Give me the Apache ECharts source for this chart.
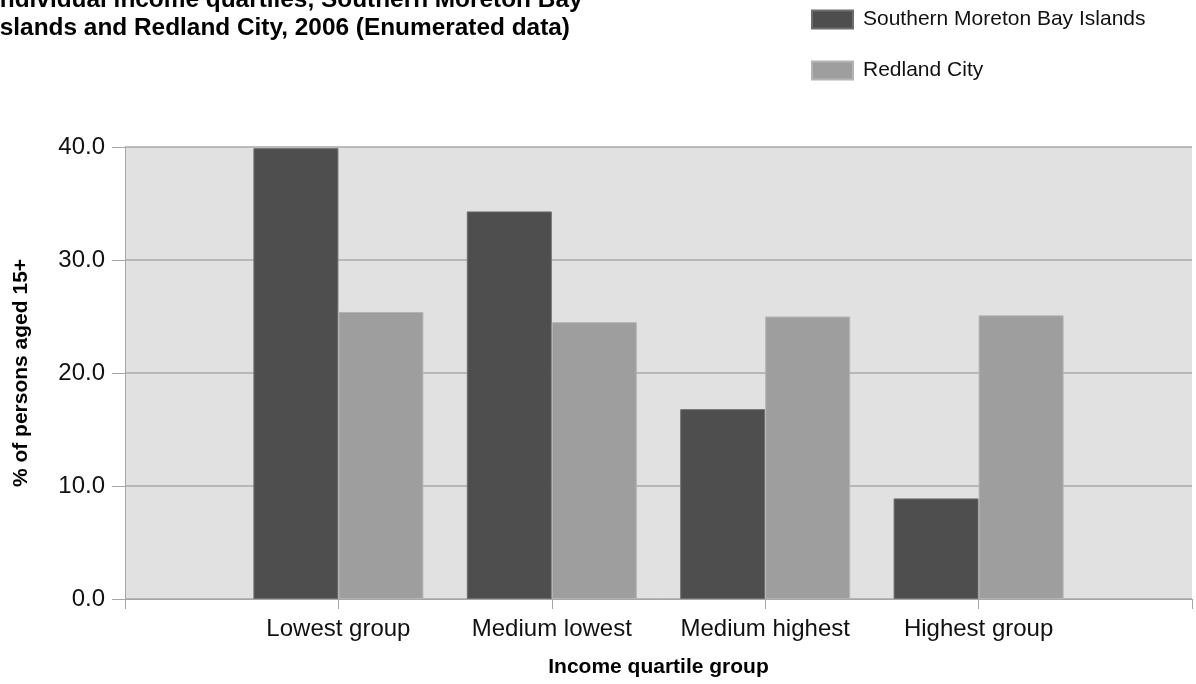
<!DOCTYPE html>
<html>
<head>
<meta charset="utf-8">
<script src="https://cdn.jsdelivr.net/npm/echarts@6/dist/echarts.min.js"></script>
<style>
  html, body { margin: 0; padding: 0; background: #ffffff; }
  #chart { width: 1196px; height: 684px; }
</style>
</head>
<body>
<div id="chart"></div>
<script>
// Income quartile groups (empty slots pad each end of the axis)
const categories = ['Lowest group', 'Medium lowest', 'Medium highest', 'Highest group'];
// % of persons aged 15+ in each quartile group, 2006
const smbiValues = [39.9, 34.3, 16.8, 8.9];
const redlandValues = [25.4, 24.5, 25.0, 25.1];
const yTicks = [0, 10, 20, 30, 40];

const FONT = '"Liberation Sans", Arial, sans-serif';
const pad = arr => ['-'].concat(arr, ['-']);

const chart = echarts.init(document.getElementById('chart'), null, { renderer: 'canvas' });

chart.setOption({
  animation: false,
  backgroundColor: '#ffffff',
  textStyle: { fontFamily: FONT },
  title: {
    text: 'Individual income quartiles, Southern Moreton Bay\nIslands and Redland City, 2006 (Enumerated data)',
    left: -7,
    top: -14,
    padding: 0,
    textStyle: { fontFamily: FONT, fontSize: 24.4, fontWeight: 'bold', color: '#000', lineHeight: 28 }
  },
  legend: {
    orient: 'vertical',
    left: 811,
    top: 9,
    padding: 0,
    itemWidth: 41,
    itemHeight: 18,
    itemGap: 30,
    icon: 'rect',
    textStyle: { fontFamily: FONT, fontSize: 21, color: '#111', padding: [0, 0, 0, 5] },
    data: ['Southern Moreton Bay Islands', 'Redland City']
  },
  grid: {
    left: 125,
    right: 4,
    top: 147,
    bottom: 85,
    show: true,
    backgroundColor: '#e1e1e1',
    borderWidth: 0,
    containLabel: false
  },
  xAxis: {
    type: 'category',
    boundaryGap: false,
    data: [''].concat(categories, ['']),
    name: 'Income quartile group',
    nameLocation: 'middle',
    nameGap: 58,
    nameTextStyle: { fontFamily: FONT, fontSize: 21, fontWeight: 'bold', color: '#000' },
    axisLine: { show: true, lineStyle: { color: '#a6a6a6', width: 1 } },
    axisTick: { show: true, alignWithLabel: true, length: 10, lineStyle: { color: '#a6a6a6' } },
    axisLabel: { interval: 0, fontFamily: FONT, fontSize: 24, color: '#111', margin: 18 },
    splitLine: { show: false }
  },
  yAxis: {
    type: 'value',
    min: yTicks[0],
    max: yTicks[yTicks.length - 1],
    interval: 10,
    name: '% of persons aged 15+',
    nameLocation: 'middle',
    nameGap: 93,
    nameRotate: 90,
    nameTextStyle: { fontFamily: FONT, fontSize: 21, fontWeight: 'bold', color: '#000' },
    axisLine: { show: true, lineStyle: { color: '#a6a6a6', width: 1 } },
    axisTick: { show: true, length: 13, lineStyle: { color: '#a6a6a6' } },
    axisLabel: {
      fontFamily: FONT, fontSize: 24, color: '#111', margin: 20,
      formatter: v => v.toFixed(1)
    },
    splitLine: { show: true, lineStyle: { color: '#a9a9a9', width: 1.5 } }
  },
  series: [
    {
      name: 'Southern Moreton Bay Islands',
      type: 'bar',
      data: pad(smbiValues),
      barWidth: 85,
      barGap: '0%',
      itemStyle: { color: '#4e4e4e', borderColor: '#6e6e6e', borderWidth: 1 }
    },
    {
      name: 'Redland City',
      type: 'bar',
      data: pad(redlandValues),
      barWidth: 85,
      barGap: '0%',
      itemStyle: { color: '#9e9e9e', borderColor: '#b4b4b4', borderWidth: 1 }
    }
  ]
});
</script>
</body>
</html>
